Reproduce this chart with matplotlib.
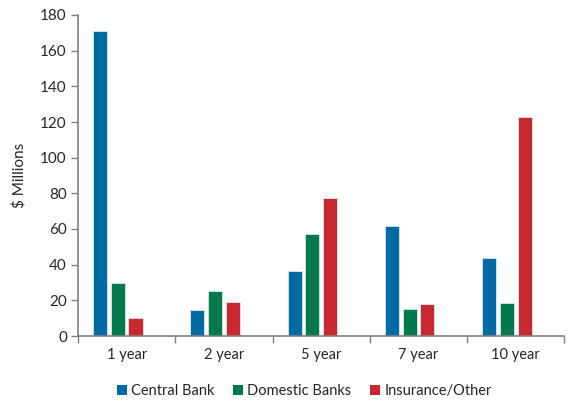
import numpy as np
import matplotlib.pyplot as plt
from matplotlib.patches import Patch

plt.rcParams['font.family'] = ['Lato', 'DejaVu Sans']

tenors = ['1 year', '2 year', '5 year', '7 year', '10 year']
central_bank = [171, 14.6, 36.3, 61.5, 43.6]
domestic_banks = [30, 25.1, 57.2, 15.1, 18.3]
insurance_other = [10.1, 19.1, 77.5, 17.8, 122.8]

series = [
    ('Central Bank', central_bank, '#006AA2'),
    ('Domestic Banks', domestic_banks, '#007A4B'),
    ('Insurance/Other', insurance_other, '#C8282F'),
]

axis_col = '#7f7f7f'
txt_col = '#262626'

fig = plt.figure(figsize=(5.68, 4.0), dpi=100)
ax = fig.add_axes([0.1373, 0.16, 0.8565, 0.8025])

x = np.arange(len(tenors))
width = 0.145
pitch = 0.182
# four slots per group, last one left empty
offsets = (np.arange(4) - 1.5) * pitch
for i, (name, vals, col) in enumerate(series):
    ax.bar(x + offsets[i], vals, width, color=col, edgecolor='#d8e8f0',
           linewidth=0.6, label=name, zorder=2)

ax.set_xlim(-0.5, len(tenors) - 0.5)
ax.set_ylim(0, 180)
ax.set_yticks(np.arange(0, 181, 20))
ax.set_xticks(x)
ax.set_xticklabels(tenors)
ax.set_xticks(np.arange(-0.5, len(tenors)), minor=True)
ax.tick_params(axis='x', which='major', length=0, pad=9, labelsize=10.5, labelcolor=txt_col)
ax.tick_params(axis='x', which='minor', length=5, color=axis_col, width=1)
ax.tick_params(axis='y', length=5, color=axis_col, width=1, labelsize=11,
               labelcolor=txt_col, pad=3)

for s in ['top', 'right']:
    ax.spines[s].set_visible(False)
for s in ['left', 'bottom']:
    ax.spines[s].set_color(axis_col)
    ax.spines[s].set_linewidth(1.2)

ax.set_ylabel('$ Millions', fontsize=11, color=txt_col, labelpad=10)

handles = [Patch(facecolor=c, edgecolor='none') for _, _, c in series]
fig.legend(handles, [n for n, _, _ in series], loc='center', bbox_to_anchor=(0.536, 0.022),
           ncol=3, frameon=False, fontsize=10.5, handlelength=0.65, handleheight=0.65,
           handletextpad=0.3, columnspacing=1.3, labelcolor=txt_col)

fig.savefig('out.png', dpi=100)
